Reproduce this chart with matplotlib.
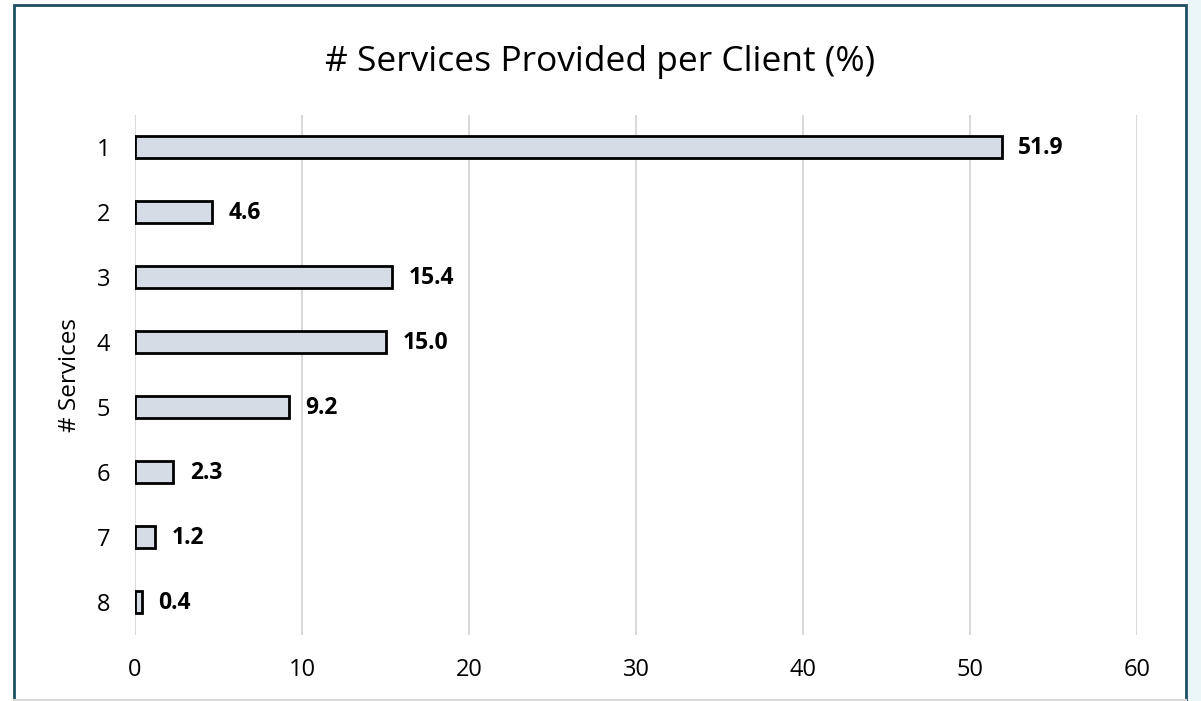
import matplotlib
matplotlib.use("Agg")
import matplotlib.pyplot as plt
from matplotlib.patches import Rectangle

plt.rcParams['font.family'] = ['Open Sans', 'DejaVu Sans']

services = ["1", "2", "3", "4", "5", "6", "7", "8"]
share = [51.9, 4.6, 15.4, 15.0, 9.2, 2.3, 1.2, 0.4]
xticks = [0, 10, 20, 30, 40, 50, 60]

fig = plt.figure(figsize=(12.01, 7.01), dpi=100)
fig.patch.set_facecolor("white")

# light panel on the right and the dark frame round the chart
fig.patches.append(Rectangle((1188 / 1201, 0), 1 - 1188 / 1201, 1, transform=fig.transFigure,
                             facecolor="#eaf6f8", edgecolor="none", zorder=0))
fig.patches.append(Rectangle((14 / 1201, 1 / 701), (1186 - 14) / 1201, 1 - 6 / 701,
                             transform=fig.transFigure, facecolor="white",
                             edgecolor="#1f4e63", linewidth=2, zorder=1))
fig.lines.append(plt.Line2D([14 / 1201, 1186 / 1201], [1 / 701, 1 / 701], transform=fig.transFigure,
                            color="#d9d9d9", linewidth=1.5, zorder=2))

ax = fig.add_axes([135 / 1201, (701 - 634.5) / 701, (1137 - 135) / 1201, (634.5 - 114.5) / 701])
ax.set_zorder(2)
ax.set_facecolor("none")

pos = list(range(1, len(services) + 1))
ax.barh(pos, share, height=0.33, color="#d6dce5", edgecolor="black", linewidth=2, zorder=3)
for p, v in zip(pos, share):
    ax.text(v + 1.0, p + 0.02, f"{v:.1f}", va="center", ha="left", fontsize=16.5, fontweight="bold", zorder=4)

ax.set_xlim(0, 60)
ax.set_ylim(8.5, 0.5)
ax.set_yticks(pos)
ax.set_yticklabels(services, fontsize=17)
ax.set_xticks(xticks)
ax.set_xticklabels([str(t) for t in xticks], fontsize=17)
ax.tick_params(length=0, pad=18, axis="y")
ax.tick_params(length=0, pad=17, axis="x")
ax.grid(axis="x", color="#d9d9d9", linewidth=1.5, zorder=0)
ax.set_axisbelow(True)
for s in ax.spines.values():
    s.set_visible(False)

ax.set_ylabel("# Services", fontsize=17.5, labelpad=10)
fig.text(0.5, 1 - 62 / 701, "# Services Provided per Client (%)", ha="center", va="center", fontsize=25.5)

fig.savefig("out.png", dpi=100)
